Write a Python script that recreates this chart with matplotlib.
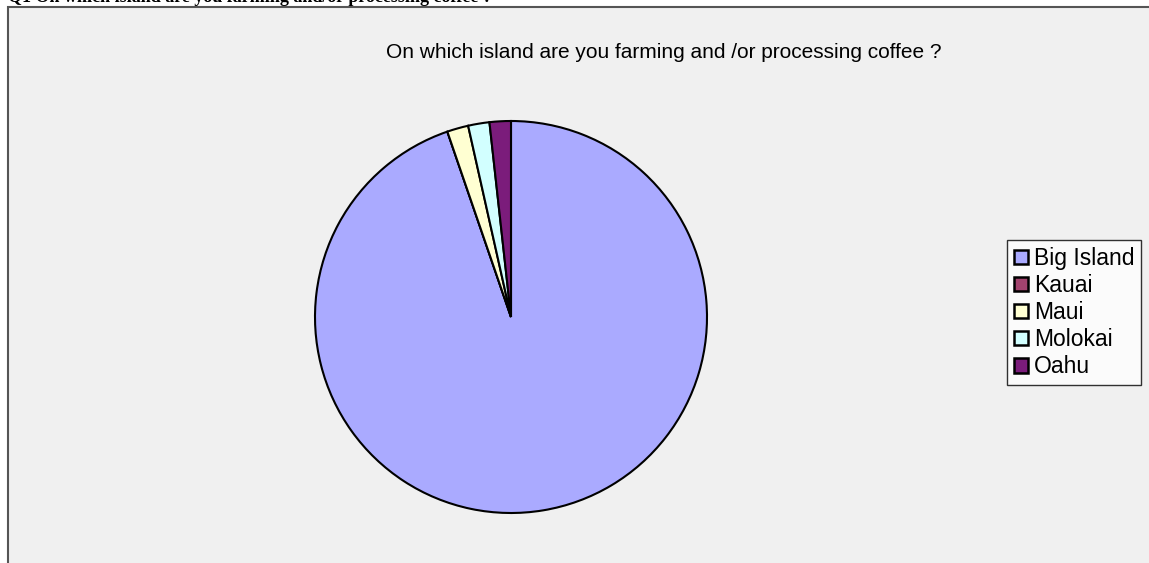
import matplotlib.pyplot as plt
from matplotlib.patches import Rectangle, Patch

# data (number of respondents)
islands = ["Big Island", "Kauai", "Maui", "Molokai", "Oahu"]
counts = [54, 0, 1, 1, 1]
colors = ["#AAAAFF", "#A3436E", "#FFFFD2", "#D2FFFF", "#7B1C7B"]

W, H = 1149, 563
fig = plt.figure(figsize=(W / 100, H / 100), dpi=100)
fig.patch.set_facecolor("white")

# chart area box
fig.patches.append(Rectangle((8 / W, -0.1), 1.2, 1 - 7 / H + 0.1,
                             transform=fig.transFigure, facecolor="#F0F0F0",
                             edgecolor="#555555", linewidth=1.5, zorder=-5))

# cut-off heading above the chart
fig.text(8 / W, 1 - 2 / H, "Q1 On which island are you farming and/or processing coffee ?",
         family="Liberation Serif", weight="bold", fontsize=13,
         ha="left", va="baseline")

fig.text(664 / W, 1 - 53 / H, "On which island are you farming and /or processing coffee ?",
         family="Liberation Sans", fontsize=15, ha="center", va="center")

cx, cy, r = 511, 317, 196
pad = 1.02
ax = fig.add_axes([(cx - r * pad) / W, (H - cy - r * pad) / H, 2 * r * pad / W, 2 * r * pad / H])
ax.pie(counts, colors=colors, startangle=90, counterclock=False, radius=1,
       wedgeprops=dict(edgecolor="black", linewidth=1.5))
ax.set_xlim(-pad, pad)
ax.set_ylim(-pad, pad)
ax.axis("off")

handles = [Patch(facecolor=c, edgecolor="black", linewidth=1.8) for c in colors]
leg = fig.legend(handles, islands, loc="upper left",
                 bbox_to_anchor=(1007 / W, 1 - 240 / H),
                 prop=dict(family="Liberation Sans", size=16.5),
                 frameon=True, fancybox=False, edgecolor="black",
                 handlelength=0.6, handleheight=0.6, handletextpad=0.28,
                 labelspacing=0.18, borderpad=0.3, borderaxespad=0)
leg.get_frame().set_facecolor("white")
leg.get_frame().set_linewidth(1)

fig.savefig("out.png", dpi=100)
